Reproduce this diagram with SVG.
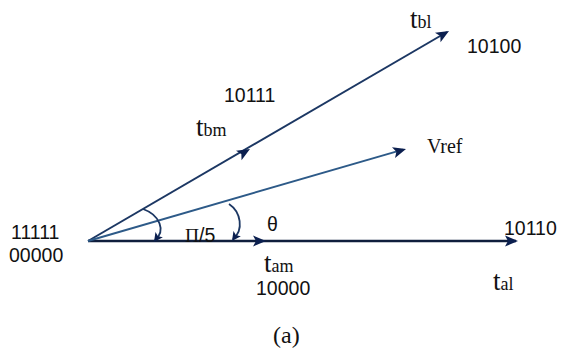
<svg xmlns="http://www.w3.org/2000/svg" width="561" height="351" viewBox="0 0 561 351">
<style>
.code{font-family:"Liberation Sans",Arial,sans-serif;font-size:19.5px;fill:#111}
.t{font-family:"Liberation Serif","Times New Roman",serif;fill:#111}
.main{font-size:27px}
.sub{font-size:18px}
.ah{fill:#0b1f4f}
</style>
<defs>
<path id="ah" class="ah" d="M0,0 L-13,-5.5 L-10,0 L-13,5.5 Z"/>
<path id="ahs" class="ah" d="M0,0 L-9,-4.5 L-7,0 L-9,4.5 Z"/>
</defs>
<rect width="561" height="351" fill="#fff"/>
<g id="connectors" fill="none">
<line x1="88" y1="241" x2="516" y2="241" stroke="#0f1e3d" stroke-width="2.6"/>
<line x1="88" y1="241" x2="447" y2="32" stroke="#1c3763" stroke-width="2"/>
<line x1="88" y1="241" x2="403" y2="149.6" stroke="#2d5a88" stroke-width="2"/>
<path d="M143,209 C160,215 166,231 155,240" stroke="#1c3763" stroke-width="1.8"/>
<path d="M229,204 C241,212 244,230 233,239" stroke="#1c3763" stroke-width="1.8"/>
<use href="#ah" transform="translate(518,241)"/>
<use href="#ah" transform="translate(266,241)"/>
<use href="#ah" transform="translate(449,31) rotate(-30.2)"/>
<use href="#ah" transform="translate(250,149) rotate(-30.2)"/>
<use href="#ah" transform="translate(406,149) rotate(-16.2)"/>
<use href="#ahs" transform="translate(154,242) rotate(125)"/>
<use href="#ahs" transform="translate(232,241) rotate(125)"/>
</g>
<g id="origin">
<text class="code" x="11" y="239">11111</text>
<text class="code" x="9" y="262">00000</text>
</g>
<g id="tbl">
<text class="t" x="410" y="28"><tspan class="main">t</tspan><tspan class="sub">bl</tspan></text>
<text class="code" x="467" y="53">10100</text>
</g>
<g id="tbm">
<text class="t" x="196" y="136"><tspan class="main">t</tspan><tspan class="sub">bm</tspan></text>
<text class="code" x="224" y="102">10111</text>
</g>
<g id="vref">
<text class="t" x="427" y="153" font-size="20">Vref</text>
</g>
<g id="tam">
<text class="t" x="264" y="272"><tspan class="main">t</tspan><tspan class="sub">am</tspan></text>
<text class="code" x="256" y="295">10000</text>
</g>
<g id="tal">
<text class="t" x="493" y="290"><tspan class="main">t</tspan><tspan class="sub">al</tspan></text>
<text class="code" x="504" y="235">10110</text>
</g>
<g id="angles">
<text class="code" x="185" y="242" font-size="19"><tspan font-family="Liberation Serif, serif">Π</tspan>/5</text>
<text class="code" x="267" y="231" font-size="21">θ</text>
</g>
<g id="caption">
<text class="t" x="273" y="343" font-size="24">(a)</text>
</g>
</svg>
